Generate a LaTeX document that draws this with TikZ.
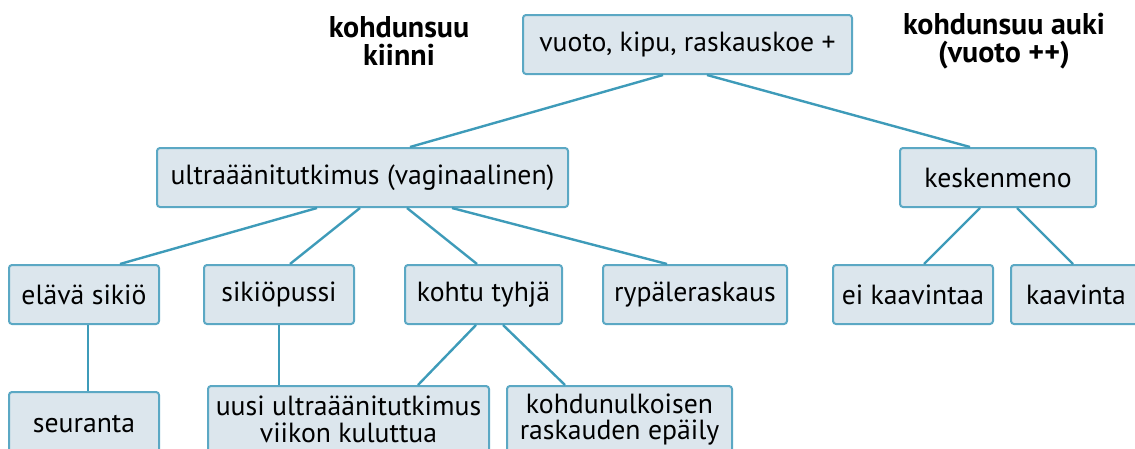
\documentclass[tikz,border=0pt]{standalone}
\usepackage{fontspec}
\setmainfont{PT Sans}
\usepackage{tikz}
\usetikzlibrary{positioning}

\definecolor{boxline}{HTML}{5BA8C4}
\definecolor{boxfill}{HTML}{DCE6ED}
\definecolor{linkline}{HTML}{3E9BB9}

\begin{document}
\begin{tikzpicture}[x=1pt,y=-1pt,
		box/.style={draw=boxline,fill=boxfill,line width=2pt,rounded corners=3pt,
			inner sep=0pt,minimum height=59pt,align=center,
			font=\fontsize{27.7}{26.5}\selectfont},
		side/.style={align=center,font=\fontsize{30}{28.5}\selectfont\bfseries},
		link/.style={draw=linkline,line width=2.4pt}]
		\useasboundingbox (0,0) rectangle (1135,448);

		\node[box,minimum width=329pt] (start)  at (687.5,44.5)  {vuoto, kipu, raskauskoe +};
		\node[box,minimum width=411pt] (ultra)  at (362.5,177.5) {ultraäänitutkimus (vaginaalinen)};
		\node[box,minimum width=196pt] (kesken) at (998,177.5)   {keskenmeno};

		\node[box,minimum width=150pt] (elava)  at (84,294.5)    {elävä sikiö};
		\node[box,minimum width=150pt] (pussi)  at (279,294.5)   {sikiöpussi};
		\node[box,minimum width=157pt] (tyhja)  at (483.5,294.5) {kohtu tyhjä};
		\node[box,minimum width=184pt] (rypale) at (695,294.5)   {rypäleraskaus};
		\node[box,minimum width=160pt] (eikaav) at (913,294.5)   {ei kaavintaa};
		\node[box,minimum width=130pt] (kaav)   at (1076,294.5)  {kaavinta};

		\node[box,minimum width=150pt,minimum height=64pt,anchor=north] (seur) at (84,391)    {seuranta};
		\node[box,minimum width=281pt,minimum height=67pt,anchor=north] (uusi) at (348.5,385) {uusi ultraäänitutkimus\\viikon kuluttua};
		\node[box,minimum width=225pt,minimum height=67pt,anchor=north] (ulko) at (619.5,385) {kohdunulkoisen\\raskauden epäily};

		\node[side] (kiinni) at (399,41)  {kohdunsuu\\kiinni};
		\node[side] (auki)   at (1004,41) {kohdunsuu auki\\(vuoto ++)};

		\path[link] ([xshift=-24.5pt]start.south) edge ([xshift=47.5pt]ultra.north);
		\path[link] ([xshift=19.5pt]start.south)  edge ([xshift=-28pt]kesken.north);

		\path[link] ([xshift=-45.5pt]ultra.south) edge ([xshift=36pt]elava.north);
		\path[link] ([xshift=-2.5pt]ultra.south)  edge ([xshift=11pt]pussi.north);
		\path[link] ([xshift=44.5pt]ultra.south)  edge ([xshift=-6.5pt]tyhja.north);
		\path[link] ([xshift=89.5pt]ultra.south)  edge ([xshift=-28pt]rypale.north);

		\path[link] ([xshift=-18pt]kesken.south)  edge ([xshift=11pt]eikaav.north);
		\path[link] ([xshift=19pt]kesken.south)   edge ([xshift=-3pt]kaav.north);

		\path[link] ([xshift=4pt]elava.south)     edge ([xshift=4pt]seur.north);
		\path[link] (pussi.south)                 edge ([xshift=-69.5pt]uusi.north);
		\path[link] ([xshift=-7.5pt]tyhja.south)  edge ([xshift=69.5pt]uusi.north);
		\path[link] ([xshift=19.5pt]tyhja.south)  edge ([xshift=-54.5pt]ulko.north);
	\end{tikzpicture}
\end{document}
